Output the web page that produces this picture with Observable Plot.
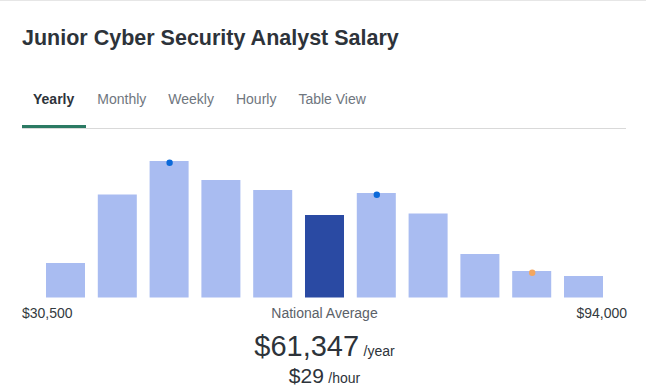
<!DOCTYPE html>
<html>
<head>
<meta charset="utf-8">
<script src="https://cdn.jsdelivr.net/npm/d3@7"></script>
<script src="https://cdn.jsdelivr.net/npm/@observablehq/plot@0.6"></script>
<style>
  html, body { margin: 0; padding: 0; background: #fff; }
  body { width: 646px; height: 390px; position: relative; overflow: hidden;
         font-family: "Liberation Sans", Arial, Helvetica, sans-serif; }
  .topline { position: absolute; left: 0; top: 0; width: 646px; height: 1px; background: #e6e6e6; }
  .title { position: absolute; left: 22px; top: 26px; font-size: 21.5px; font-weight: bold;
           color: #2d333a; line-height: 24px; white-space: nowrap; }
  .tabs { position: absolute; left: 22px; top: 88px; width: 604px; height: 40px;
          border-bottom: 1px solid #d9d9d9; display: flex; }
  .tab { padding: 0 11px; font-size: 14px; line-height: 22px; color: #6f767e; height: 40px;
         box-sizing: border-box; white-space: nowrap; }
  .tab.active { color: #2d333a; font-weight: bold; padding-left: 11px; padding-right: 12px;
                border-bottom: 3px solid #2b7a63; }
  #chart { position: absolute; left: 0; top: 140px; }
  .lbl { position: absolute; font-size: 14px; line-height: 16px; white-space: nowrap; }
  .lmin { left: 22px; top: 305px; color: #333a40; }
  .lmax { right: 19px; top: 305px; color: #333a40; }
  .lavg { left: 0; width: 649px; text-align: center; top: 305px; color: #5b6168; }
  .big { position: absolute; left: 0; width: 649px; text-align: center; top: 329px;
         color: #2d333a; white-space: nowrap; line-height: 34px; }
  .big .num { font-size: 29px; }
  .big .unit { font-size: 14px; }
  .hr { position: absolute; left: 0; width: 649px; text-align: center; top: 364px;
        color: #2d333a; white-space: nowrap; line-height: 24px; }
  .hr .num { font-size: 21px; }
  .hr .unit { font-size: 14px; }
</style>
</head>
<body>
<div class="topline"></div>
<div class="title" id="title"></div>
<div class="tabs" id="tabs"></div>
<div id="chart"></div>
<div class="lbl lmin" id="lmin"></div>
<div class="lbl lavg" id="lavg"></div>
<div class="lbl lmax" id="lmax"></div>
<div class="big" id="big"></div>
<div class="hr" id="hr"></div>
<script>
// ---- data ----
const titleText = "Junior Cyber Security Analyst Salary";
const tabLabels = ["Yearly", "Monthly", "Weekly", "Hourly", "Table View"];
const minLabel = "$30,500";
const maxLabel = "$94,000";
const avgLabel = "National Average";
const yearlyAvg = "$61,347";
const hourlyAvg = "$29";
// salary bins (index 0..10) and relative share of jobs in each bin
const bins = ["b1","b2","b3","b4","b5","b6","b7","b8","b9","b10","b11"];
const shares = [34.5, 103, 136.5, 117.5, 107.5, 82.5, 104.5, 84, 43.5, 26.5, 21.5];
const averageBin = "b6";
// markers on bins
const markerBins = ["b3", "b7", "b10"];
const markerKinds = ["primary", "primary", "secondary"];

// ---- html text ----
document.getElementById("title").textContent = titleText;
const tabs = document.getElementById("tabs");
tabLabels.forEach((t, i) => {
  const d = document.createElement("div");
  d.className = "tab" + (i === 0 ? " active" : "");
  d.textContent = t;
  tabs.appendChild(d);
});
document.getElementById("lmin").textContent = minLabel;
document.getElementById("lmax").textContent = maxLabel;
document.getElementById("lavg").textContent = avgLabel;
document.getElementById("big").innerHTML = `<span class="num">${yearlyAvg}</span> <span class="unit">/year</span>`;
document.getElementById("hr").innerHTML = `<span class="num">${hourlyAvg}</span> <span class="unit">/hour</span>`;

// ---- chart ----
const table = bins.map((b, i) => ({bin: b, share: shares[i], avg: b === averageBin}));
const markers = markerBins.map((b, i) => ({bin: b, share: shares[bins.indexOf(b)], kind: markerKinds[i]}));

const chart = Plot.plot({
  width: 646,
  height: 160,
  marginLeft: 39.6,
  marginRight: 36.6,
  marginTop: 0,
  marginBottom: 2.5,
  style: {background: "transparent", overflow: "visible"},
  x: {type: "band", domain: bins, paddingInner: 0.247, paddingOuter: 0.1235, round: false, axis: null},
  y: {domain: [0, 157.5], axis: null},
  color: {type: "ordinal", domain: ["primary", "secondary"], range: ["#0b69d9", "#f3a660"]},
  marks: [
    Plot.barY(table, {x: "bin", y: "share", fill: d => d.avg ? "#2a4aa3" : "#a9bcf1"}),
    Plot.dot(markers, {x: "bin", y: "share", dy: 1.2, r: 3.2, fill: "kind", stroke: "none"})
  ]
});
document.getElementById("chart").appendChild(chart);
</script>
</body>
</html>
